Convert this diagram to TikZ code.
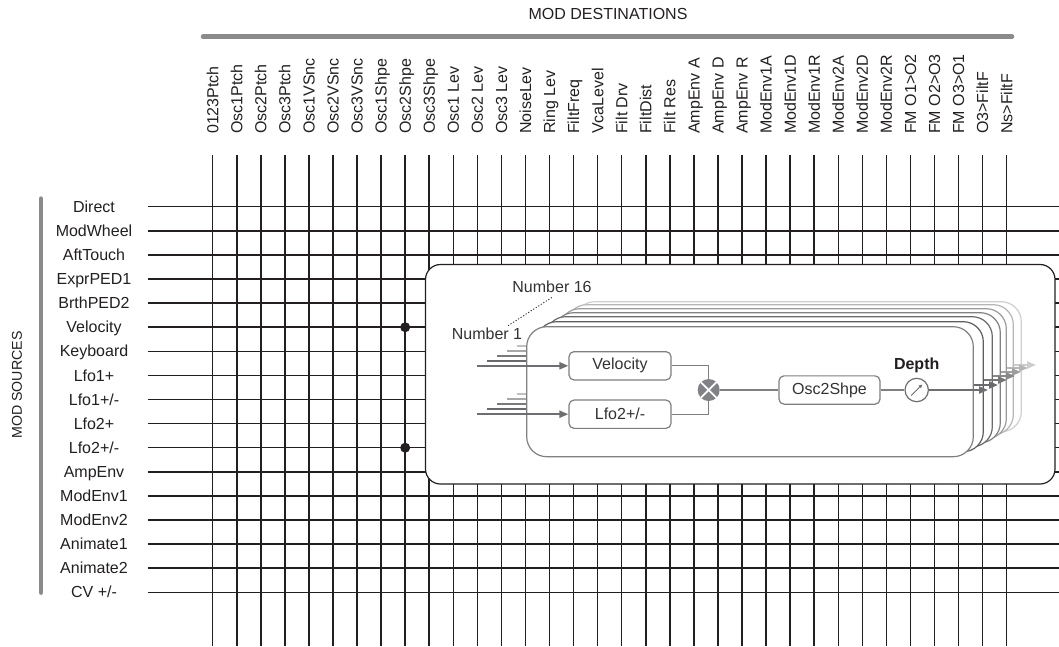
\documentclass[tikz,border=0pt]{standalone}
\usepackage{fontspec}
\setmainfont{Liberation Sans}
\usetikzlibrary{arrows.meta,calc}
\definecolor{ink}{HTML}{231F20}
\definecolor{barc}{HTML}{8B8B8B}
\definecolor{boxc}{HTML}{7F7F7F}
\definecolor{txt}{HTML}{333333}
\definecolor{arr}{HTML}{6D6E71}
\definecolor{multc}{HTML}{808285}
\definecolor{c0}{HTML}{808080}
\definecolor{c1}{HTML}{5E5E5E}
\definecolor{c2}{HTML}{6A6A6A}
\definecolor{c3}{HTML}{828282}
\definecolor{c4}{HTML}{9C9C9C}
\definecolor{c5}{HTML}{B6B6B6}
\definecolor{c6}{HTML}{CFCFCF}
\definecolor{a1}{HTML}{6A6A6A}
\definecolor{a2}{HTML}{767676}
\definecolor{a3}{HTML}{888888}
\definecolor{a4}{HTML}{9E9E9E}
\definecolor{a5}{HTML}{B6B6B6}
\definecolor{a6}{HTML}{CDCDCD}
\definecolor{i1}{HTML}{6A6A6A}
\definecolor{i2}{HTML}{7A7A7A}
\definecolor{i3}{HTML}{A8A8A8}
\definecolor{i4}{HTML}{C0C0C0}
\tikzset{
  lab/.style={font=\fontsize{16}{19}\selectfont, text=ink, inner sep=0pt},
  gridline/.style={draw=ink, line width=1.5pt},
  dotnode/.style={circle, fill=ink, inner sep=0pt, minimum size=10pt},
  outerbox/.style={draw=ink, fill=white, line width=1.2pt, rounded corners=15pt, inner sep=0pt},
  card/.style={fill=white, line width=1.2pt, rounded corners=20pt, inner sep=0pt, minimum width=446.6pt, minimum height=130pt},
  fbox/.style={draw=boxc, fill=white, line width=1.2pt, rounded corners=5pt, inner sep=0pt, minimum height=28.3pt, font=\fontsize{16}{19}\selectfont, text=txt},
  thinline/.style={draw=boxc, line width=1.2pt},
  arrowline/.style={line width=2pt, -{Triangle[length=9pt,width=7pt]}},
}
\begin{document}
\begin{tikzpicture}[x=1pt,y=-1pt]
\useasboundingbox (0,0) rectangle (1059,646);
% titles and bars
\node[lab, anchor=center] (dtitle) at (608,14.2) {MOD DESTINATIONS};
\coordinate (tb1) at (203,36.7); \coordinate (tb2) at (1012,36.7);
\draw[draw=barc, line width=4.5pt, line cap=round] (tb1) -- (tb2);
\node[lab, font=\fontsize{14.2}{17}\selectfont, rotate=90, anchor=center] (stitle) at (17,385) {MOD SOURCES};
\coordinate (lb1) at (41,198.5); \coordinate (lb2) at (41,592.7);
\draw[draw=barc, line width=4.3pt, line cap=round] (lb1) -- (lb2);
% columns
\foreach \t [count=\i from 0] in {0123Ptch,Osc1Ptch,Osc2Ptch,Osc3Ptch,Osc1VSnc,Osc2VSnc,Osc3VSnc,Osc1Shpe,Osc2Shpe,Osc3Shpe,Osc1 Lev,Osc2 Lev,Osc3 Lev,NoiseLev,Ring Lev,FiltFreq,VcaLevel,Filt Drv,FiltDist,Filt Res,AmpEnv A,AmpEnv D,AmpEnv R,ModEnv1A,ModEnv1D,ModEnv1R,ModEnv2A,ModEnv2D,ModEnv2R,FM O1>O2,FM O2>O3,FM O3>O1,O3>FiltF,Ns>FiltF}{
  \pgfmathsetmacro\cx{212.7+\i*24.06}
  \node[lab, rotate=90, anchor=base west] (c\i) at (\cx+5.6,134) {\t};
  \coordinate (ct\i) at (\cx,155);
  \coordinate (cb\i) at (\cx,646);
  \draw[gridline] (ct\i) -- (cb\i);
}
% rows
\foreach \t [count=\j from 0] in {Direct,ModWheel,AftTouch,ExprPED1,BrthPED2,Velocity,Keyboard,Lfo1+,Lfo1+/-,Lfo2+,Lfo2+/-,AmpEnv,ModEnv1,ModEnv2,Animate1,Animate2,CV +/-}{
  \pgfmathsetmacro\ry{206.7+\j*24.1}
  \node[lab, anchor=base] (r\j) at (94,\ry+5.6) {\t};
  \coordinate (rl\j) at (147.5,\ry);
  \coordinate (rr\j) at (1059,\ry);
  \draw[gridline] (rl\j) -- (rr\j);
}
% connection dots
\node[dotnode] (dot1) at (ct8 |- rl5) {};
\node[dotnode] (dot2) at (ct8 |- rl10) {};
% inset box
\node[outerbox, minimum width=629.5pt, minimum height=219.5pt] (inset) at (740.25,374.25) {};
% back cards with their outputs
\foreach \k/\dx/\dy/\cc/\ac in {6/48/-25/c6/a6,5/40/-22/c5/a5,4/33/-18/c4/a4,3/27/-14/c3/a3,2/19/-10/c2/a2,1/10/-5/c1/a1}{
  \node[card, draw=\cc] (card\k) at (750+\dx,391.7+\dy) {};
  \coordinate (os\k) at (940+\dx,390+\dy);
  \coordinate (oe\k) at (988+\dx,390+\dy);
  \draw[arrowline, draw=\ac] (os\k) -- (oe\k);
}
% back inputs
\foreach \k/\cc in {1/i1,2/i2,3/i3,4/i4}{
  \coordinate (ia\k) at (476.7+10*\k,365.8-5*\k);
  \coordinate (ib\k) at (527,365.8-5*\k);
  \draw[line width=2pt, draw=\cc] (ia\k) -- (ib\k);
  \coordinate (ja\k) at (476.7+10*\k,414.2-5*\k);
  \coordinate (jb\k) at (527,414.2-5*\k);
  \draw[line width=2pt, draw=\cc] (ja\k) -- (jb\k);
}
% front card
\node[card, draw=c0] (card0) at (750,391.7) {};
\node[fbox, minimum width=102pt] (vel) at (620,365.8) {Velocity};
\node[fbox, minimum width=102pt] (lfo) at (620,414.2) {Lfo2+/-};
\node[circle, fill=multc, inner sep=0pt, minimum size=22pt] (mul) at (708.7,390) {};
\draw[white, line width=1.8pt] ($(mul)+(-7.8,-7.8)$) -- ($(mul)+(7.8,7.8)$);
\draw[white, line width=1.8pt] ($(mul)+(-7.8,7.8)$) -- ($(mul)+(7.8,-7.8)$);
\node[fbox, minimum width=101pt] (osc) at (829.5,390) {Osc2Shpe};
\node[circle, draw=arr, fill=white, line width=1.2pt, inner sep=0pt, minimum size=23.4pt] (dep) at (916.7,390) {};
\draw[draw=arr, line width=1pt, -{Triangle[length=3.5pt,width=3.5pt]}] ($(dep)+(-5.5,5.5)$) -- ($(dep)+(5.5,-5.5)$);
\node[lab, font=\fontsize{16}{19}\selectfont\bfseries] (deplab) at (916.7,365.5) {Depth};
\draw[thinline] (vel.east) -| (mul.north);
\draw[thinline] (lfo.east) -| (mul.south);
\draw[thinline] (mul.east) -- (osc.west);
\draw[thinline] (osc.east) -- (dep.west);
\coordinate (oe0) at (988,390);
\draw[arrowline, draw=arr] (dep.east) -- (oe0);
\coordinate (in1) at (476.7,365.8);
\coordinate (in2) at (476.7,414.2);
\draw[arrowline, draw=arr] (in1) -- (vel.west);
\draw[arrowline, draw=arr] (in2) -- (lfo.west);
% number labels
\node[lab, text=txt] (n16) at (552,287) {Number 16};
\node[lab, text=txt] (n1) at (487,333.5) {Number 1};
\coordinate (dl1) at (508,325.7);
\coordinate (dl2) at (553,296.7);
\draw[draw=txt, line width=0.9pt, dash pattern=on 1.2pt off 1.8pt] (dl1) -- (dl2);
\end{tikzpicture}
\end{document}
